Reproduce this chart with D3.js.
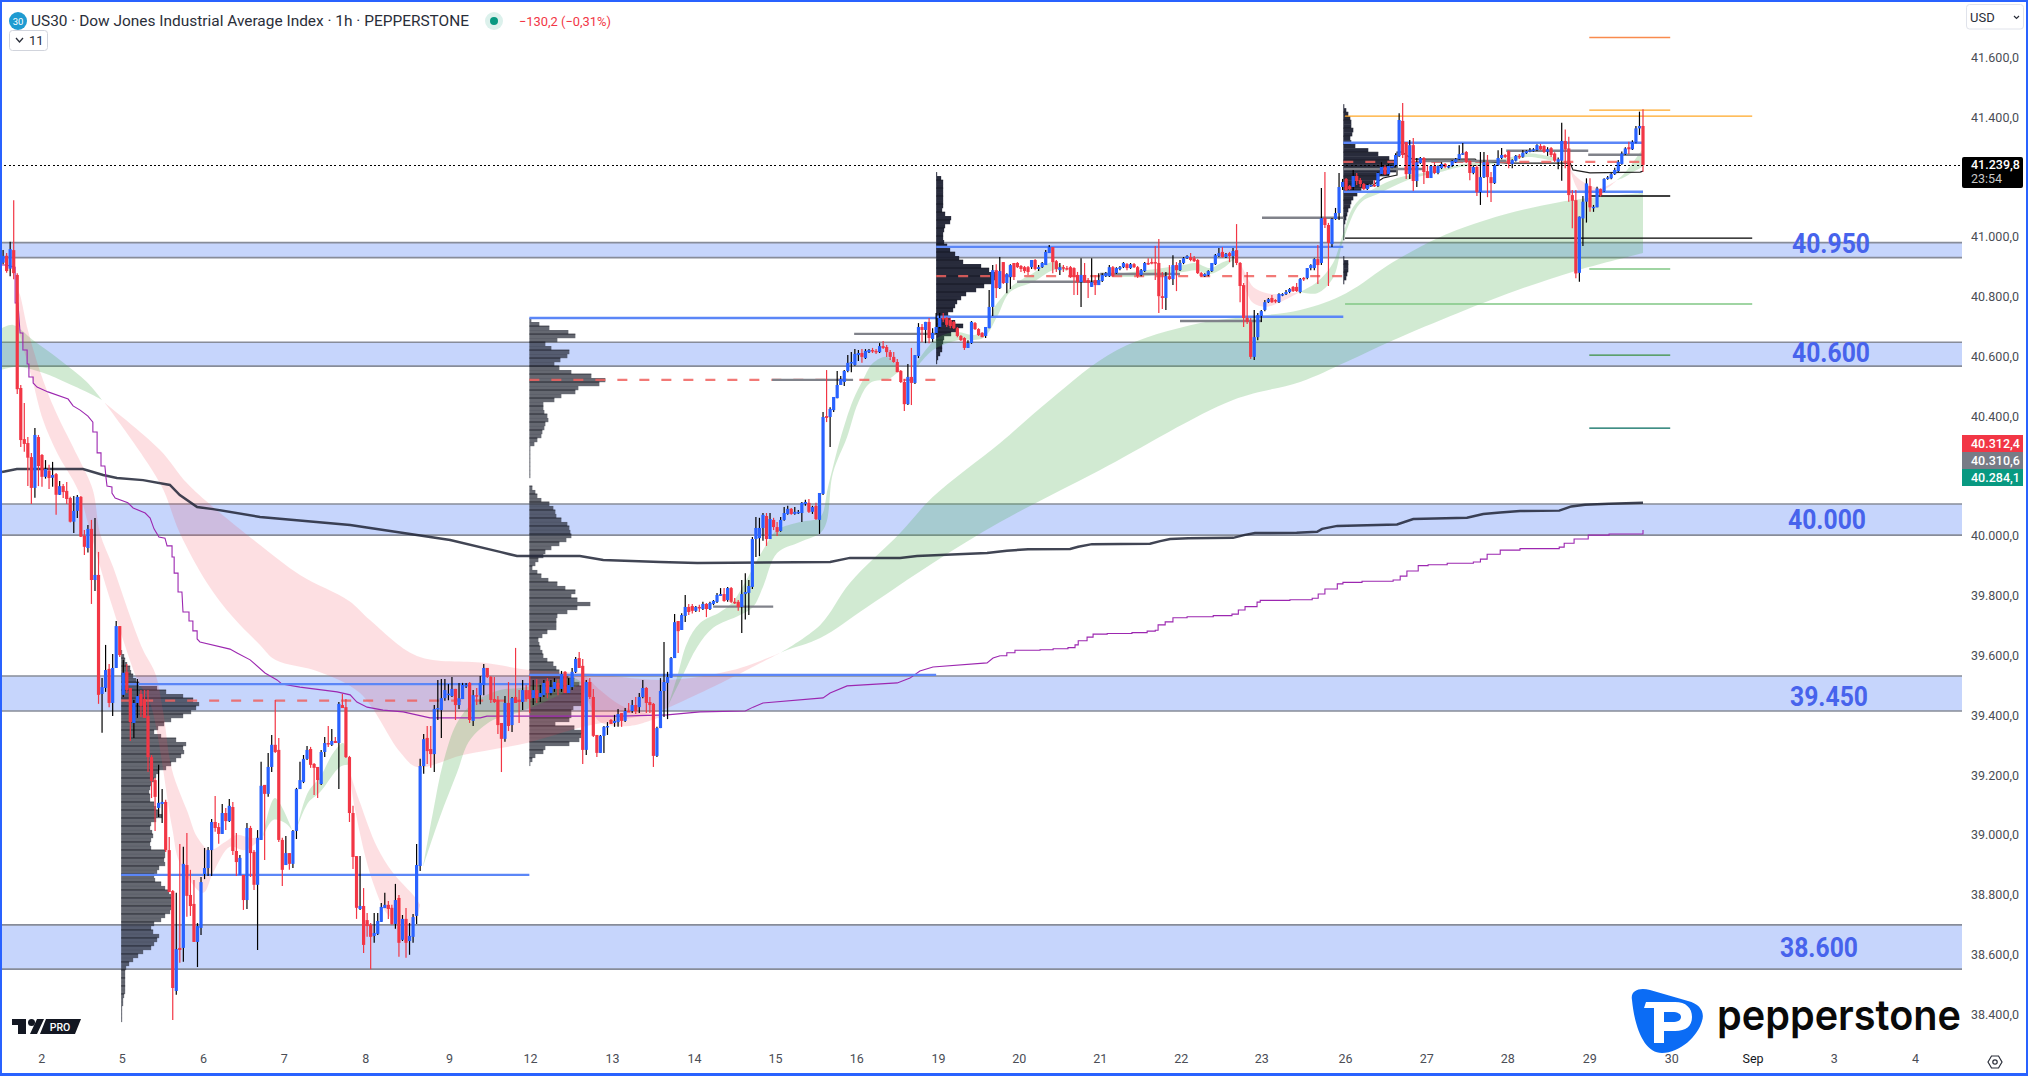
<!DOCTYPE html>
<html>
<head>
<meta charset="utf-8">
<title>US30 1h</title>
<script src="https://cdn.jsdelivr.net/npm/d3@7"></script>
<style>
  html, body { margin: 0; padding: 0; background: #fff; }
  svg { display: block; font-family: Roboto, "Noto Sans", sans-serif; }
</style>
</head>
<body>
<svg width="2028" height="1076"></svg>
<script>
// candles are [open, high, low, close], one list per stretch of the chart
const candlesAug1 = [
[40913,40955,40908,40936],[40936,40945,40879,40885],[40893,40983,40868,40958],[40955,41122,40858,40878],[40872,40878,40474,40490],[40494,40504,40297,40320],[40323,40444,40281,40307],[40310,40330,40166,40261],[40263,40277,40106,40160],[40160,40360,40127,40337],
[40330,40337,40166,40233],[40270,40273,40164,40197],[40197,40253,40191,40223],[40217,40237,40156,40193],[40194,40247,40164,40203],[40206,40210,40070,40137],[40137,40183,40136,40166],[40166,40173,40126,40146],[40150,40180,40106,40123],[40126,40130,40044,40047],
[40047,40133,40009,40083],[40083,40136,40059,40130],[40130,40133,39996,39997],[40000,40019,39936,39963],[39959,40036,39944,40023],[40023,40053,39772,39852],[39852,40059,39815,39869],[39869,39946,39438,39468],[39471,39524,39341,39494],[39491,39635,39478,39551],
[39555,39571,39427,39441],[39441,39605,39397,39558],[39558,39715,39558,39698],[39698,39698,39595,39601]
];
const candlesAug5 = [
[39468,39585,39461,39542],[39545,39571,39474,39484],[39491,39491,39314,39377],[39374,39451,39324,39441],[39441,39521,39391,39464],[39471,39484,39394,39431],[39454,39484,39391,39391],[39397,39484,39210,39260],[39260,39267,39123,39180],[39183,39190,39013,39127],
[39090,39234,39060,39107],[39103,39153,39040,39110],[39110,39117,38943,38949],[38949,38993,38809,38809],[38812,38816,38381,38488],[38478,38806,38465,38618],[38622,38969,38572,38615],[38622,38960,38576,38903],[38899,39006,38726,38796],[38799,38883,38729,38762],
[38769,38849,38642,38642],[38642,38705,38558,38695],[38689,38859,38665,38842],[38869,38956,38852,38889],[38889,38959,38862,38949],[38949,39053,38862,39043],[39043,39130,39010,39023],[39026,39040,38970,39003],[39003,39103,39003,39073],[39073,39090,39016,39046],
[39046,39120,39043,39097],[39093,39110,38933,38946],[38946,39006,38862,38909],[38866,38933,38866,38923],[38866,38866,38749,38782],[38782,39040,38752,39023],[39023,39030,38859,38939],[38943,38949,38816,38833],[38833,39016,38615,38990],[38983,39244,38983,39164],
[39167,39167,38916,39137],[39137,39274,39127,39227],[39227,39334,39210,39301],[39301,39451,39274,39277],[39284,39324,38976,38983],[38983,38990,38829,38883],[38899,38996,38899,38939],[38939,38939,38883,38903],[38903,39016,38889,39013],[39013,39157,38986,39153],
[39153,39244,39153,39183],[39177,39267,39173,39254],[39254,39297,39250,39284],[39287,39294,39224,39234],[39237,39240,39133,39224],[39227,39227,39123,39183],[39170,39284,39167,39277],[39277,39327,39260,39307],[39307,39364,39294,39304],[39301,39354,39297,39314],
[39314,39327,39307,39307],[39307,39444,39153,39438],[39434,39471,39424,39424],[39427,39454,39257,39260],[39260,39264,39043,39073],[39073,39097,38886,38926],[38929,38929,38719,38756],[38752,38929,38749,38762],[38762,38822,38605,38632],[38715,38739,38659,38695],
[38699,38705,38551,38659],[38662,38739,38639,38672],[38669,38739,38665,38712],[38709,38772,38709,38759],[38755,38806,38755,38766],[38766,38779,38719,38752],[38756,38766,38699,38702],[38702,38836,38686,38782],[38789,38799,38592,38639],[38649,38732,38645,38719],
[38719,38755,38589,38639],[38645,38705,38599,38662],[38659,38735,38639,38725],[38729,38969,38702,38899],[38896,39254,38879,39230],[39230,39337,39204,39320],[39324,39364,39237,39280],[39287,39364,39224,39270],[39270,39434,39210,39421],[39421,39518,39384,39424],
[39417,39521,39324,39457],[39457,39521,39448,39484],[39468,39504,39450,39472],[39464,39528,39461,39488],[39488,39488,39384,39434],[39434,39508,39421,39457],[39454,39508,39454,39501],[39497,39508,39491,39501],[39508,39511,39374,39384],[39381,39484,39364,39467],
[39467,39491,39434,39464],[39467,39531,39437,39508],[39501,39571,39467,39558],[39558,39558,39524,39528],[39528,39531,39441,39451]
];
const candlesAug12 = [
[39454,39528,39441,39444],[39451,39464,39337,39367],[39374,39374,39210,39321],[39321,39464,39311,39441],[39441,39511,39347,39364],[39367,39461,39344,39457],[39461,39625,39441,39441],[39451,39484,39374,39444],[39444,39518,39417,39484],[39484,39501,39451,39454],
[39484,39531,39407,39454],[39457,39518,39434,39484],[39484,39521,39441,39457],[39461,39501,39444,39474],[39467,39518,39461,39508],[39514,39524,39457,39474],[39474,39518,39467,39494],[39488,39524,39478,39511],[39508,39521,39467,39488],[39488,39548,39478,39538],
[39545,39548,39474,39474],[39474,39524,39474,39501],[39494,39558,39484,39545],[39545,39595,39541,39588],[39591,39611,39558,39558],[39565,39588,39237,39284],[39284,39518,39267,39511],[39511,39524,39454,39461],[39461,39488,39327,39331],[39334,39334,39260,39274],
[39274,39334,39274,39331],[39331,39364,39274,39361],[39361,39377,39334,39364],[39384,39387,39371,39371],[39374,39401,39361,39381],[39377,39421,39361,39404],[39407,39407,39361,39381],[39381,39424,39377,39414],[39414,39441,39411,39411],[39414,39451,39407,39434],
[39434,39461,39404,39414],[39427,39474,39407,39461],[39461,39518,39457,39491],[39491,39494,39407,39441],[39444,39461,39407,39434],[39438,39441,39227,39264],[39264,39361,39260,39357],[39357,39524,39357,39481],[39481,39645,39394,39511],[39508,39545,39387,39528],
[39525,39595,39525,39591],[39591,39738,39591,39711],[39715,39715,39608,39681],[39685,39741,39685,39735],[39732,39802,39712,39762],[39762,39772,39735,39745],[39765,39772,39740,39749],[39749,39765,39745,39762],[39762,39769,39745,39759],[39755,39779,39752,39772],
[39772,39775,39728,39755],[39755,39779,39752,39775],[39772,39785,39768,39782],[39779,39809,39775,39802],[39799,39825,39799,39805],[39805,39825,39779,39782],[39785,39829,39779,39825],[39825,39829,39775,39779],[39779,39792,39772,39775],[39779,39785,39749,39762],
[39762,39852,39675,39805],[39805,39875,39720,39812],[39809,39852,39735,39832],[39829,39996,39822,39989],[39989,40063,39929,40026],[39992,40060,39932,40026],[40026,40076,39983,40070],[40066,40076,39966,39989],[39989,40076,39989,40056],[40053,40060,40019,40029],
[40029,40046,39999,40013],[40016,40063,40013,40053],[40053,40096,40050,40076],[40073,40100,40070,40090],[40090,40093,40070,40073],[40073,40096,40070,40080],[40076,40086,40073,40080],[40076,40113,40046,40110],[40106,40120,40100,40113],[40110,40123,40076,40080],
[40080,40100,40073,40096],[40100,40110,40053,40056],[40053,40143,40006,40143],[40140,40414,40136,40397],[40400,40554,40380,40394],[40397,40430,40297,40424],[40420,40464,40414,40464],[40460,40551,40460,40504],[40504,40534,40504,40524],[40514,40554,40501,40551],
[40551,40604,40547,40578],[40578,40614,40547,40581],[40571,40624,40568,40608],[40604,40621,40584,40611],[40611,40624,40578,40598]
];
const candlesAug19 = [
[40594,40624,40591,40618],[40614,40624,40611,40621],[40621,40628,40611,40618],[40618,40624,40608,40614],[40614,40644,40611,40634],[40634,40651,40624,40628],[40631,40638,40598,40614],[40614,40621,40588,40598],[40598,40614,40578,40581],[40581,40591,40547,40547],
[40551,40554,40511,40514],[40514,40524,40417,40440],[40440,40574,40437,40531],[40531,40628,40437,40511],[40511,40604,40507,40604],[40601,40711,40594,40698],[40698,40708,40648,40688],[40688,40715,40644,40715],[40715,40728,40644,40661],[40658,40694,40648,40678],
[40678,40745,40674,40698],[40698,40745,40694,40728],[40728,40745,40715,40725],[40728,40731,40698,40705],[40721,40728,40694,40701],[40715,40718,40691,40694],[40694,40698,40664,40668],[40668,40671,40651,40654],[40661,40664,40621,40628],[40628,40654,40628,40644],
[40644,40718,40641,40715],[40711,40715,40688,40691],[40691,40694,40668,40671],[40678,40681,40664,40664],[40668,40698,40661,40698],[40694,40822,40694,40765],[40765,40905,40735,40888],[40888,40908,40795,40828],[40828,40932,40825,40885],[40915,40915,40842,40845],
[40845,40878,40811,40875],[40865,40908,40825,40905],[40912,40912,40855,40865],[40912,40915,40895,40898],[40902,40905,40882,40892],[40898,40902,40878,40885],[40898,40902,40872,40882],[40898,40922,40892,40922],[40922,40925,40888,40892],[40892,40905,40885,40898],
[40898,40915,40895,40912],[40905,40955,40905,40949],[40945,40972,40945,40965],[40965,40965,40878,40915],[40918,40922,40882,40892],[40888,40912,40872,40898],[40898,40905,40882,40895],[40895,40902,40888,40893],[40898,40902,40862,40865],[40895,40898,40805,40865],
[40872,40882,40805,40848],[40848,40928,40765,40872],[40872,40912,40845,40848],[40855,40862,40795,40845],[40832,40928,40832,40848],[40855,40872,40805,40838],[40838,40878,40838,40855],[40852,40878,40848,40872],[40868,40882,40865,40878],[40868,40905,40865,40898],
[40898,40902,40865,40868],[40878,40898,40875,40895],[40892,40902,40888,40898],[40898,40915,40895,40912],[40908,40912,40888,40895],[40895,40912,40892,40908],[40908,40912,40895,40898],[40898,40902,40862,40868],[40872,40892,40868,40888],[40885,40915,40882,40912],
[40912,40928,40905,40908],[40915,40928,40908,40912],[40915,40969,40855,40912],[40912,40992,40745,40801],[40801,40882,40758,40795],[40795,40882,40755,40868],[40868,40905,40855,40858],[40858,40938,40838,40905],[40905,40915,40818,40888],[40888,40922,40885,40912],
[40912,40932,40908,40928],[40928,40938,40925,40935],[40932,40945,40918,40922],[40928,40935,40915,40918],[40922,40925,40875,40878],[40878,40882,40865,40868],[40868,40878,40865,40875],[40872,40888,40868,40885],[40885,40912,40882,40912],[40908,40942,40905,40938],
[40935,40962,40932,40945],[40949,40965,40929,40932],[40932,40945,40929,40942],[40945,40949,40915,40935],[40935,40962,40898,40952],[40955,41042,40905,40912],[40912,40915,40781,40835],[40838,40845,40698,40728],[40728,40882,40708,40715],[40715,40728,40591,40598]
];
const candlesAug23 = [
[40598,40755,40588,40664],[40664,40745,40654,40738],[40735,40755,40715,40751],[40755,40788,40751,40781],[40781,40795,40778,40791],[40795,40805,40778,40781],[40788,40791,40778,40785],[40781,40811,40778,40808],[40805,40811,40801,40808],[40808,40822,40805,40815],
[40815,40828,40811,40825],[40832,40835,40815,40818],[40832,40845,40815,40818],[40815,40862,40811,40858],[40862,40865,40852,40858],[40862,40895,40858,40895],[40895,40908,40888,40905],[40895,40928,40888,40925],[40925,40972,40842,40905],[40912,41163,40905,41062],
[41062,41216,41029,41039],[41039,41046,40835,40979],[40975,41062,40965,41059],[41059,41096,41056,41079],[41079,41213,41056,41166],[41166,41193,41156,41183]
];
const candlesAug26 = [
[41193,41196,41153,41156],[41169,41173,41156,41159],[41166,41223,41156,41203],[41203,41213,41173,41186],[41189,41196,41166,41176],[41176,41179,41156,41159],[41159,41176,41156,41173],[41169,41176,41166,41173],[41173,41189,41166,41169],[41169,41216,41166,41213],
[41209,41249,41206,41233],[41233,41239,41206,41209],[41209,41243,41206,41236],[41233,41239,41229,41236],[41236,41279,41233,41273],[41269,41413,41266,41390],[41387,41447,41263,41273],[41316,41316,41193,41209],[41209,41323,41193,41306],[41306,41330,41153,41186],
[41186,41263,41166,41249],[41246,41266,41243,41263],[41263,41266,41176,41216],[41219,41239,41196,41196],[41196,41239,41196,41236],[41236,41249,41209,41213],[41213,41239,41209,41236],[41229,41249,41226,41243],[41243,41246,41229,41233],[41233,41239,41229,41236],
[41236,41256,41233,41253],[41249,41263,41246,41259],[41259,41306,41256,41276],[41276,41313,41273,41279],[41283,41286,41246,41249],[41253,41256,41189,41213],[41213,41239,41209,41233],[41233,41239,41136,41149],[41149,41283,41106,41199],[41199,41283,41196,41249],
[41249,41273,41132,41199],[41199,41216,41116,41179],[41179,41243,41176,41239],[41239,41289,41236,41263],[41263,41296,41259,41273]
];
const candlesAug28 = [
[41273,41276,41263,41266],[41286,41289,41229,41243],[41243,41259,41229,41256],[41254,41273,41251,41270],[41270,41276,41260,41267],[41267,41290,41264,41281],[41279,41289,41276,41286],[41284,41296,41282,41289],[41286,41296,41284,41292],[41290,41309,41286,41306],
[41303,41310,41289,41292],[41303,41306,41280,41284],[41284,41299,41270,41292],[41296,41300,41266,41273],[41278,41282,41250,41254],[41250,41265,41225,41259],[41254,41381,41187,41320],[41320,41358,41229,41292],[41295,41334,41117,41139],[41139,41156,41028,41120],
[41122,41156,40861,40877],[40879,41067,40849,41067],[41061,41136,40969,41117],[41117,41195,41047,41178],[41169,41195,41083,41098],[41098,41106,41083,41100],[41098,41167,41098,41161],[41159,41161,41134,41139],[41152,41195,41150,41193],[41193,41203,41190,41198],
[41195,41213,41192,41209],[41209,41230,41206,41223],[41219,41256,41216,41250],[41243,41285,41240,41278],[41276,41299,41273,41295],[41299,41317,41276,41292],[41292,41322,41290,41317],[41315,41370,41312,41362],[41362,41418,41340,41370],[41370,41426,41217,41239.8]
];

const bandLow = [40930, 40567, 40002, 39414, 38551];
const bandHigh = [40980, 40647, 40106, 39531, 38699];
const bandLabels = ["40.950", "40.600", "40.000", "39.450", "38.600"];
const bandLabelCentre = [1831, 1831, 1827, 1829, 1819];
const bandLabelBase = [253, 362, 529, 706, 957];

const priceTicks = [41600, 41400, 41000, 40800, 40600, 40400, 40000, 39800, 39600, 39400, 39200, 39000, 38800, 38600, 38400];
const dayLabels = ["2", "5", "6", "7", "8", "9", "12", "13", "14", "15", "16", "19", "20", "21", "22", "23", "26", "27", "28", "29", "30", "Sep", "3", "4"];
const dayBars = [10.8, 33.6, 56.6, 79.4, 102.5, 126.2, 149.1, 172.3, 195.5, 218.4, 241.4, 264.5, 287.4, 310.3, 333.2, 356, 379.7, 402.7, 425.6, 448.8, 472, 495, 518, 541];

// volume profile rows, width of the row, one step below the previous row
const profileStep = 13.37;
const profile1Top = 39618;
const profile1 = [1,3,4,6,9,10,12,15,18,36,45,62,72,78,75,70,62,50,43,37,33,40,55,65,62,63,60,55,50,45,38,35,33,30,29,28,29,29,33,35,38,41,35,30,29,31,32,30,29,30,44,44,43,44,38,36,33,34,40,44,48,50,50,50,50,49,44,40,33,30,32,38,36,33,30,22,17,12,8,5,4,4,4,4,4,4,3,2,2,1,1,1,1];
const profile2Top = 40728;
const profile2 = [2,10,20,39,46,28,16,22,40,38,31,25,30,42,62,76,70,49,46,32,25,14,14,15,18,19,16,15,13,12,8,5,1,1,1,1,1,1,1,1,0,0,3,6,8,12,20,24,26,27,32,38,40,41,42,37,30,22,16,14,9,6,3,8,12,19,28,36,46,42,48,61,48,38,28,27,27,27,18,13,9,10,11,13,14,18,24,27,30,39,45,50,54,54,54,54,54,44,42,42,40,26,45,54,52,50,40,16,14,6,3,1];
const profile3Top = 41216;
const profile3 = [1,5,7,7,7,7,7,7,7,6,9,15,14,9,8,7,7,8,11,14,19,23,27,45,53,59,59,56,48,40,30,25,21,19,17,12,14,19,27,22,15,8,7,6,6,4,2,1];
const profile4Top = 41443;
const profile4 = [1,3,5,7,8,8,10,9,7,8,12,25,35,46,51,53,53,46,36,30,26,18,14,10,8,7,5,4,3,2,1,1,1,1,0,0,0,0,1,5,5,5,4,3,1];
const profileStartBar = [33.4, 148.9, 264, 379.2];
const profileEndBar = [148.9, 264, 379.2, 464];
const profileHigh = [39504, 40728, 40966, 41314];
const profileLow = [38866, 39535, 40732, 41150];
const profilePoc = [39449, 40521, 40868, 41250];

// leftover session POCs: start bar, end bar, price
const pocStart = [240.8, 200.9, 217.6, 286.9, 310.4, 333, 356.2, 379.2, 402.3, 425.3, 448.5];
const pocEnd = [264, 217.9, 240.5, 310.4, 333, 356.2, 379.2, 402.3, 425.3, 448.5, 464];
const pocPrice = [40675, 39763, 40521, 40849, 40875, 40718, 41063, 41226, 41253, 41287, 41274];

const pivotShort = [41666, 41423, 41136, 40892, 40604, 40360];
const pivotShortColor = ["#f98b4e", "#ffa726", "#000000", "#81c784", "#388e3c", "#00695c"];
const pivotLong = [41403, 40995, 40775];
const pivotLongColor = ["#ffa726", "#000000", "#81c784"];

// ribbons as [bar, price]
const slowGreenTop = [[-0.3,40694],[2.8,40705],[8.5,40654],[16.1,40588],[23.7,40514],[28,40454]];
const slowGreenBottom = [[-0.3,40555],[3.9,40565],[11.3,40545],[18.1,40511],[25.4,40471],[28,40454]];
const slowPinkTop = [[28.8,40444],[44.4,40287],[52,40176],[59.4,40096],[72.7,39969],[84,39869],[97.9,39782],[103.8,39718],[117.1,39598],[136.1,39575],[149.4,39551],[164.1,39541],[187.9,39518],[206.5,39551],[219.8,39608]];
const slowPinkBottom = [[28.8,40444],[44.4,40176],[50,40009],[57.7,39842],[65,39728],[72.7,39635],[77,39585],[89.7,39544],[101,39474],[112.3,39277],[117.1,39227],[130.1,39267],[148.2,39307],[164.1,39361],[183.9,39407],[197.2,39474],[219.8,39608]];
const slowUpTop = [[219.8,39608],[231.2,39702],[239.6,39842],[253.8,40009],[263.1,40130],[282.1,40310],[296.2,40454],[315.2,40621],[338.7,40711],[367,40755],[380,40811],[393.3,40915],[406.6,40999],[419.6,41056],[440.6,41116],[464,41146]];
const slowUpBottom = [[219.8,39608],[221.8,39618],[231.2,39658],[244.5,39762],[263.1,39909],[282.1,40046],[310.4,40220],[348,40454],[367,40514],[380,40581],[393.3,40654],[411.7,40745],[430.1,40828],[445.6,40888],[464,40945]];

const fastDown1Top = [[3.9,40832],[4.8,40805],[7,40688],[11,40531],[14.7,40420],[21.2,40263],[25.4,40153],[27.4,40009],[31.1,39896],[35.3,39752],[39.6,39618],[43,39541],[45.2,39418],[47.8,39217],[52.3,39073],[54.9,38993],[58.5,38949],[62.8,38976],[66.2,39000],[69.9,38990],[73.5,38993]];
const fastDown1Bottom = [[3.9,40832],[4.2,40711],[8.5,40511],[11.3,40387],[15.3,40277],[21.2,40153],[24,40043],[28,39875],[34,39651],[38,39518],[41.6,39441],[47.8,39026],[50,38906],[56.6,38806],[59.4,38873],[64.2,38960],[68.5,38949],[73.5,38993]];
const fastUp1Top = [[73.5,38993],[76.9,39123],[81.8,39016]];
const fastUp1Bottom = [[73.5,38993],[76.4,39050],[79.8,39040],[81.8,39016]];
const fastUp2Top = [[83.2,39026],[86.3,39143],[89.7,39193],[93.4,39274],[96.2,39307],[97.6,39240]];
const fastUp2Bottom = [[83.2,39023],[86.3,39107],[89.7,39143],[95.3,39227],[97.6,39234]];
const fastDown2Top = [[97.9,39217],[101,39107],[105.8,38959],[110.3,38873],[116.5,38792],[118,38766]];
const fastDown2Bottom = [[97.9,39217],[99.6,39083],[104.7,38839],[109.5,38725],[115.7,38699],[118,38766]];
const fastUp3Top = [[118.8,38893],[121.6,39073],[124.5,39240],[128.4,39374],[133,39441],[140.6,39484],[146.3,39491],[161.3,39525],[163.8,39508]];
const fastUp3Bottom = [[118.8,38893],[123.6,39060],[128.4,39207],[132.1,39317],[138.6,39384],[146.3,39411],[157.6,39468],[163.8,39508]];
const fastDown3Top = [[164.1,39541],[168.9,39484],[174.6,39434],[180.2,39411],[186.7,39397]];
const fastDown3Bottom = [[164.1,39484],[166.1,39434],[168.9,39377],[177.4,39364],[186.7,39397]];
const fastUp4Top = [[186.7,39397],[187.9,39427],[190.7,39528],[193.5,39641],[197.2,39708],[202.9,39745],[206.5,39779],[215,39952],[219,40019],[225.5,40046],[231.2,40063],[233.4,40163],[236.8,40320],[240.5,40454],[243.3,40521],[246.2,40578],[250.1,40598],[253.8,40554]];
const fastUp4Bottom = [[186.7,39397],[192.1,39528],[196.4,39628],[200.9,39692],[208.5,39735],[212.2,39762],[215,39829],[219,39942],[225.5,39979],[232,40019],[234.8,40210],[238.8,40330],[241.9,40444],[245.3,40511],[251,40527],[253.8,40554]];
const fastUp5Top = [[258.6,40581],[264.3,40661],[270,40681],[274.4,40671],[278.4,40688],[280.1,40755],[282.7,40798],[285.8,40838],[291.4,40878],[297.1,40915],[301,40888]];
const fastUp5Bottom = [[258.6,40564],[263.1,40621],[270,40654],[277.3,40661],[281.2,40731],[284.9,40815],[291.4,40848],[297.1,40888],[301,40885]];
const fastUp6Top = [[311.8,40872],[319.7,40882],[333.9,40905],[337.3,40912],[341.5,40895],[345.2,40915],[348.6,40929]];
const fastUp6Bottom = [[311.8,40868],[319.7,40865],[333.9,40882],[337.3,40888],[341.5,40875],[345.2,40895],[348.6,40929]];
const fastDown4Top = [[350,40912],[352,40865],[353.7,40832],[357.6,40811],[362.2,40808],[367,40815]];
const fastDown4Bottom = [[350,40912],[352,40811],[353.7,40778],[357.1,40765],[361.3,40781],[367,40815]];
const fastUp7Top = [[367,40815],[371.8,40848],[376.3,40912],[379.2,41012],[382,41099],[386,41146],[394.5,41196],[401.8,41213],[406.6,41226],[411.4,41239],[425.6,41263],[431.2,41279],[438.6,41266]];
const fastUp7Bottom = [[367,40815],[371.8,40811],[376.3,40862],[379.2,40989],[384,41112],[389.6,41146],[397.3,41189],[406.6,41216],[412.3,41233],[425.6,41249],[431.2,41266],[438.6,41253]];
const fastDown5Top = [[442.8,41249],[444.2,41213],[447.1,41183],[451.9,41163],[456.6,41189]];
const fastDown5Bottom = [[442.8,41249],[446.2,41149],[449.9,41146],[453.9,41163],[456.6,41189]];
const fastUp8Top = [[456.6,41189],[458.3,41206],[461.2,41249],[463.7,41290]];
const fastUp8Bottom = [[456.6,41189],[458.3,41196],[461.2,41216],[463.7,41233]];

const maLine = [[-0.3,40213],[3.9,40223],[22.6,40223],[28.3,40203],[32.2,40193],[39.6,40186],[47.2,40170],[50,40136],[54.9,40096],[59.4,40089],[72.7,40063],[98.2,40036],[126.5,39986],[140.6,39946],[145.4,39932],[163.2,39932],[169.8,39919],[185.9,39912],[196.4,39909],[234,39912],[239.6,39926],[253.8,39926],[258.6,39932],[278.4,39942],[282.1,39947],[284,39950],[290,39955],[301.9,39956],[304.2,39963],[308.1,39972],[324.5,39973],[327.4,39982],[330.2,39989],[335.3,39992],[348,39993],[351.4,40003],[354.2,40009],[366,40010],[371.8,40013],[373.2,40023],[377.5,40033],[385.9,40035],[394.4,40038],[399,40056],[414.2,40060],[418.8,40073],[423.6,40078],[429.2,40083],[440.3,40084],[443.7,40098],[447.6,40104],[454.4,40107],[464,40110]];
const vwapFall = [[-0.9,40905],[0.8,40905],[3.4,40898],[3.4,40778],[4.2,40778],[4.8,40678],[5.6,40678],[5.6,40621],[6.8,40621],[6.8,40574],[7.3,40574],[7.3,40531],[8.5,40531],[8.5,40511],[9.6,40497],[12.7,40481],[18.4,40457],[19.8,40434],[21.8,40420],[24,40400],[25.4,40380],[25.4,40347],[26.6,40347],[26.6,40277],[27.7,40277],[27.7,40233],[28.8,40233],[29.1,40196],[29.4,40166],[30.8,40163],[30.8,40143],[31.7,40126],[35.3,40110],[36.8,40093],[40.2,40076],[41.6,40059],[42.7,40023],[44.1,39996],[45.8,39992],[46.4,39966],[47.8,39966],[47.8,39929],[48.4,39929],[48.4,39875],[49.5,39875],[49.5,39812],[50.6,39812],[50.9,39745],[52.6,39745],[52.6,39715],[53.7,39715],[53.7,39682],[54.9,39682],[54.9,39655],[55.7,39645],[64.2,39621],[66.2,39608],[69.9,39585],[74.1,39541],[77.5,39518],[78.9,39504],[84,39494],[94.5,39478],[98.2,39468],[100.1,39444],[103,39427],[107.5,39417],[113.2,39411],[120.8,39391],[135,39391],[136.9,39397],[174.6,39397],[187.9,39401],[197.2,39411],[210,39414],[212.2,39427],[215,39441],[232,39458],[234,39474],[238.8,39498],[253,39508],[256.6,39524],[259.4,39548],[263.1,39561],[278.4,39575],[280.1,39591],[282.1,39599]];
const vwapRise = [[282.1,39599],[284,39609],[286.3,39617],[293.4,39619],[297.1,39622],[301.3,39626],[303.3,39635],[304.2,39649],[306.7,39661],[308.4,39671],[312.4,39673],[319.4,39676],[323.7,39681],[326,39684],[326.8,39702],[328.8,39712],[331,39726],[335,39729],[342.4,39733],[347.7,39738],[349.5,39752],[351.4,39763],[354.8,39778],[355.7,39784],[364.1,39786],[370.4,39791],[372.1,39805],[374,39822],[377.5,39839],[379.1,39844],[384.5,39848],[393.3,39852],[395.3,39865],[397.2,39882],[400.4,39900],[403.2,39903],[408.6,39908],[416,39912],[418,39922],[419.9,39938],[423.6,39952],[429.2,39957],[440.3,39962],[441.7,39975],[444.5,39989],[448.5,40002],[454.4,40006],[464,40019]];
const sessionLine = [[387.3,41169],[388.8,41183],[390.5,41196],[394.4,41206],[394.4,41283],[395.8,41283],[398.7,41259],[416.5,41259],[417,41253],[425.6,41246],[443.4,41246],[444.2,41223],[449,41213],[463.2,41216],[464,41219]];

const lastPrice = 41239.8;
const sideValues = [40312.4, 40310.6, 40284.1];
const sideColours = ["#f23645", "#787b86", "#089981"];

const svg = d3.select("svg");
const candles = candlesAug1.concat(candlesAug5, candlesAug12, candlesAug19, candlesAug23, candlesAug26, candlesAug28);

const plotRight = 1962;
const x = d3.scaleLinear().domain([0, 464]).range([3.1, 1643]);
const y = d3.scaleLinear().domain([38400, 41600]).range([1014.3, 57.2]);

const chart = svg.append("g");

// bands
const bands = chart.append("g");
bandLow.forEach((low, i) => {
  bands.append("rect")
    .attr("x", 0).attr("width", plotRight)
    .attr("y", y(bandHigh[i])).attr("height", y(low) - y(bandHigh[i]))
    .attr("fill", "#c6d5fc");
  [low, bandHigh[i]].forEach(p => {
    bands.append("line")
      .attr("x1", 0).attr("x2", plotRight)
      .attr("y1", y(p)).attr("y2", y(p))
      .attr("stroke", "#878c99").attr("stroke-width", 1.6);
  });
});

// volume profiles
function drawProfile(rows, top, i) {
  const g = chart.append("g");
  const left = x(profileStartBar[i]);
  const dark = i > 1;
  rows.forEach((w, r) => {
    if (!w) return;
    const p = top - r * profileStep;
    const h = y(p - profileStep) - y(p);
    g.append("rect")
      .attr("x", left).attr("y", y(p)).attr("width", w).attr("height", h + 0.2)
      .attr("fill", dark ? "rgba(24,27,44,0.93)" : "rgba(42,46,58,0.72)");
    if (r % 2 === 0 && w > 2) {
      g.append("line")
        .attr("x1", left).attr("x2", left + w)
        .attr("y1", y(p)).attr("y2", y(p))
        .attr("stroke", "rgba(10,12,20,0.75)").attr("stroke-width", 0.8);
    }
  });
}
drawProfile(profile1, profile1Top, 0);
drawProfile(profile2, profile2Top, 1);
drawProfile(profile3, profile3Top, 2);
drawProfile(profile4, profile4Top, 3);

// ribbons
const edge = d3.line().x(d => x(d[0])).y(d => y(d[1])).curve(d3.curveCatmullRom.alpha(0.5));
function ribbon(top, bottom, colour) {
  const back = bottom.slice().reverse();
  chart.append("path")
    .attr("d", edge(top) + "L" + edge(back).slice(1) + "Z")
    .attr("fill", colour);
}
const pink = "rgba(244,67,84,0.17)";
const green = "rgba(76,175,80,0.26)";
ribbon(slowGreenTop, slowGreenBottom, green);
ribbon(slowPinkTop, slowPinkBottom, pink);
ribbon(slowUpTop, slowUpBottom, green);
ribbon(fastDown1Top, fastDown1Bottom, pink);
ribbon(fastUp1Top, fastUp1Bottom, green);
ribbon(fastUp2Top, fastUp2Bottom, green);
ribbon(fastDown2Top, fastDown2Bottom, pink);
ribbon(fastUp3Top, fastUp3Bottom, green);
ribbon(fastDown3Top, fastDown3Bottom, pink);
ribbon(fastUp4Top, fastUp4Bottom, green);
ribbon(fastUp5Top, fastUp5Bottom, green);
ribbon(fastUp6Top, fastUp6Bottom, green);
ribbon(fastDown4Top, fastDown4Bottom, pink);
ribbon(fastUp7Top, fastUp7Bottom, green);
ribbon(fastDown5Top, fastDown5Bottom, pink);
ribbon(fastUp8Top, fastUp8Bottom, green);

// moving lines
const path = d3.line().x(d => x(d[0])).y(d => y(d[1]));
chart.append("path").attr("d", path(maLine)).attr("fill", "none").attr("stroke", "rgba(32,36,54,0.85)").attr("stroke-width", 2.5);
chart.append("path").attr("d", path(vwapFall)).attr("fill", "none").attr("stroke", "#9c27b0").attr("stroke-width", 1.1);
chart.append("path").attr("d", path.curve(d3.curveStepAfter)(vwapRise)).attr("fill", "none").attr("stroke", "#9c27b0").attr("stroke-width", 1.1);
chart.append("path").attr("d", path.curve(d3.curveLinear)(sessionLine)).attr("fill", "none").attr("stroke", "#222").attr("stroke-width", 1.2);

// profile value area and POC lines
profileStartBar.forEach((start, i) => {
  const x1 = x(start), x2 = x(profileEndBar[i]);
  [profileHigh[i], profileLow[i]].forEach(p => {
    chart.append("line").attr("x1", x1).attr("x2", x2).attr("y1", y(p)).attr("y2", y(p))
      .attr("stroke", "#5b86f7").attr("stroke-width", 2.4);
  });
  chart.append("line").attr("x1", x1).attr("x2", x2).attr("y1", y(profilePoc[i])).attr("y2", y(profilePoc[i]))
    .attr("stroke", "#f0625f").attr("stroke-width", 2.2).attr("stroke-dasharray", "10,12").attr("opacity", 0.85);
});
pocStart.forEach((start, i) => {
  chart.append("line").attr("x1", x(start)).attr("x2", x(pocEnd[i])).attr("y1", y(pocPrice[i])).attr("y2", y(pocPrice[i]))
    .attr("stroke", "#80828a").attr("stroke-width", 2.4);
});
pivotShort.forEach((p, i) => {
  chart.append("line").attr("x1", x(448.8)).attr("x2", x(471.7)).attr("y1", y(p)).attr("y2", y(p))
    .attr("stroke", pivotShortColor[i]).attr("stroke-width", 1.4);
});
pivotLong.forEach((p, i) => {
  chart.append("line").attr("x1", x(379.7)).attr("x2", x(494.9)).attr("y1", y(p)).attr("y2", y(p))
    .attr("stroke", pivotLongColor[i]).attr("stroke-width", 1.4);
});

// candles
const candleG = chart.append("g");
const up = d => d[3] >= d[0];
candleG.selectAll(".wick").data(candles).join("line")
  .attr("class", "wick")
  .attr("x1", (d, i) => x(i)).attr("x2", (d, i) => x(i))
  .attr("y1", d => y(d[1])).attr("y2", d => y(d[2]))
  .attr("stroke-width", 1.2)
  .attr("stroke", d => up(d) ? "#000" : "#f23645");
candleG.selectAll(".body").data(candles).join("rect")
  .attr("class", "body")
  .attr("x", (d, i) => x(i) - 1.6).attr("width", 3.2)
  .attr("y", d => y(Math.max(d[0], d[3])))
  .attr("height", d => Math.max(1.5, Math.abs(y(d[0]) - y(d[3]))))
  .attr("fill", d => up(d) ? "#2962ff" : "#f23645");

// last price dotted line
chart.append("line").attr("x1", 0).attr("x2", plotRight).attr("y1", y(lastPrice) + 0.5).attr("y2", y(lastPrice) + 0.5)
  .attr("stroke", "#000").attr("stroke-width", 1.2).attr("stroke-dasharray", "2,2.4").attr("shape-rendering", "crispEdges");

// big band labels
bandLabels.forEach((t, i) => {
  chart.append("text")
    .attr("x", bandLabelCentre[i]).attr("y", bandLabelBase[i])
    .attr("text-anchor", "middle")
    .attr("font-size", 27).attr("font-weight", 700)
    .attr("textLength", 78).attr("lengthAdjust", "spacingAndGlyphs")
    .attr("fill", "#4763ec")
    .text(t);
});

// price axis
const priceFormat = d3.formatLocale({ decimal: ",", thousands: ".", grouping: [3], currency: ["", ""] }).format(",.1f");
const yAxis = svg.append("g")
  .attr("transform", `translate(${plotRight},0)`)
  .call(d3.axisRight(y).tickValues(priceTicks).tickSize(0).tickPadding(9).tickFormat(priceFormat));
yAxis.select(".domain").remove();
yAxis.selectAll("text").attr("font-family", "Roboto, sans-serif").attr("font-size", 12.5).attr("fill", "#4a4d55");

// time axis
const xAxis = svg.append("g")
  .attr("transform", "translate(0,1044)")
  .call(d3.axisBottom(x).tickValues(dayBars).tickSize(0).tickPadding(10).tickFormat((d, i) => dayLabels[i]));
xAxis.select(".domain").remove();
xAxis.selectAll("text").attr("font-family", "Roboto, sans-serif").attr("font-size", 12.5)
  .attr("fill", (d, i) => dayLabels[i] === "Sep" ? "#131722" : "#4a4d55");

// price label boxes
svg.append("rect").attr("x", plotRight).attr("y", 157).attr("width", 61).attr("height", 31).attr("rx", 2).attr("fill", "#000");
svg.append("text").attr("x", 1971).attr("y", 169).attr("font-size", 12.5).attr("font-weight", 500).attr("fill", "#fff").text(priceFormat(lastPrice));
svg.append("text").attr("x", 1971).attr("y", 183).attr("font-size", 12.5).attr("fill", "#c8c8c8").text("23:54");
sideValues.forEach((v, i) => {
  svg.append("rect").attr("x", plotRight).attr("y", 435 + i * 17).attr("width", 61).attr("height", 17).attr("fill", sideColours[i]);
  svg.append("text").attr("x", 1971).attr("y", 448 + i * 17).attr("font-size", 12.5).attr("font-weight", 500).attr("fill", "#fff").text(priceFormat(v));
});

// header
svg.append("circle").attr("cx", 18).attr("cy", 21).attr("r", 9).attr("fill", "#1e9bd1");
svg.append("text").attr("x", 18).attr("y", 24.5).attr("text-anchor", "middle").attr("font-size", 9.5).attr("fill", "#fff").text("30");
svg.append("text").attr("x", 31).attr("y", 26).attr("font-size", 15)
  .attr("textLength", 438).attr("lengthAdjust", "spacingAndGlyphs")
  .attr("fill", "#2a2e39").text("US30 · Dow Jones Industrial Average Index · 1h · PEPPERSTONE");
svg.append("circle").attr("cx", 494).attr("cy", 21).attr("r", 9).attr("fill", "#dcf1ec");
svg.append("circle").attr("cx", 494).attr("cy", 21).attr("r", 4).attr("fill", "#089981");
svg.append("text").attr("x", 519).attr("y", 26).attr("font-size", 13.5)
  .attr("textLength", 92).attr("lengthAdjust", "spacingAndGlyphs")
  .attr("fill", "#f23645").text("−130,2 (−0,31%)");
svg.append("rect").attr("x", 9.5).attr("y", 30.5).attr("width", 38).attr("height", 20).attr("rx", 3).attr("fill", "#fff").attr("stroke", "#d1d4dc");
svg.append("path").attr("d", "M16,38 L19.5,42 L23,38").attr("fill", "none").attr("stroke", "#2a2e39").attr("stroke-width", 1.3);
svg.append("text").attr("x", 29).attr("y", 45).attr("font-size", 13).attr("fill", "#2a2e39").text("11");

// USD selector
svg.append("rect").attr("x", 1966.5).attr("y", 4.5).attr("width", 57).attr("height", 24.5).attr("rx", 3).attr("fill", "#fff").attr("stroke", "#e0e3eb");
svg.append("text").attr("x", 1970).attr("y", 21.5).attr("font-size", 13).attr("fill", "#2a2e39").text("USD");
svg.append("path").attr("d", "M2014,16 L2016.5,18.5 L2019,16").attr("fill", "none").attr("stroke", "#2a2e39").attr("stroke-width", 1.2);

// TV PRO badge
svg.append("path").attr("d", "M12,1019 H26 V1034 H18 V1025 H12 Z M30,1034 L37,1019 H44 L37,1034 Z").attr("fill", "#131722");
svg.append("circle").attr("cx", 31.5).attr("cy", 1022.5).attr("r", 3.5).attr("fill", "#131722");
svg.append("path").attr("d", "M46,1019 H81 L75,1034 H40 Z").attr("fill", "#131722");
svg.append("text").attr("x", 60).attr("y", 1030.5).attr("text-anchor", "middle").attr("font-size", 10.5).attr("font-weight", 500).attr("fill", "#fff").text("PRO");

// Pepperstone logo
svg.append("path").attr("d", "M1632,1000 C1630,990 1640,987 1650,990 L1688,1001 C1700,1004 1705,1012 1702,1021 C1698,1036 1680,1053 1662,1053 C1645,1053 1635,1030 1632,1000 Z").attr("fill", "#0b6cf5");
svg.append("path").attr("fill-rule", "evenodd").attr("fill", "#fff")
  .attr("d", "M1646,1002 L1675,1002 C1686,1002 1692,1008 1692,1017 C1692,1026 1686,1031 1675,1031 L1664,1031 L1664,1043 L1654,1043 L1654,1008 L1644,1008 Z M1664,1012 L1672,1012 C1678,1012 1681,1014 1681,1017 C1681,1020 1678,1022 1672,1022 L1664,1022 Z");
svg.append("text").attr("x", 1717).attr("y", 1030).attr("font-family", "Inter, sans-serif").attr("font-size", 42).attr("font-weight", 600)
  .attr("textLength", 244).attr("lengthAdjust", "spacingAndGlyphs").attr("fill", "#0a0a0a").text("pepperstone");

// settings icon
svg.append("path").attr("d", "M1988,1062 L1991.5,1056 H1998.5 L2002,1062 L1998.5,1068 H1991.5 Z").attr("fill", "none").attr("stroke", "#2a2e39").attr("stroke-width", 1.2);
svg.append("circle").attr("cx", 1995).attr("cy", 1062).attr("r", 2.2).attr("fill", "none").attr("stroke", "#2a2e39").attr("stroke-width", 1.2);

// frame
svg.append("path").attr("fill", "#2962ff").attr("fill-rule", "evenodd")
  .attr("d", "M0,0 H2028 V1076 H0 Z M2,2 V1073 H2026 V2 Z");
</script>
</body>
</html>
